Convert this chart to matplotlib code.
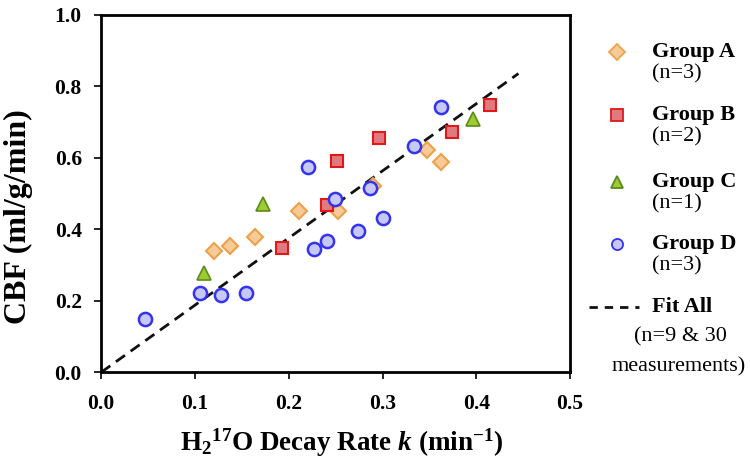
import numpy as np
import matplotlib.pyplot as plt

plt.rcParams['font.family'] = ['Liberation Serif', 'DejaVu Serif']
plt.rcParams['mathtext.fontset'] = 'custom'
plt.rcParams['mathtext.rm'] = 'Liberation Serif'
plt.rcParams['mathtext.it'] = 'Liberation Serif:italic:bold'
plt.rcParams['mathtext.bf'] = 'Liberation Serif:bold'

# decay rate k (1/min) vs CBF (ml/g/min), per group
group_a_k = [0.120, 0.1375, 0.164, 0.211, 0.252, 0.290, 0.347, 0.362]
group_a_cbf = [0.340, 0.354, 0.377, 0.450, 0.450, 0.522, 0.622, 0.588]

group_b_k = [0.193, 0.241, 0.251, 0.296, 0.374, 0.415]
group_b_cbf = [0.347, 0.469, 0.592, 0.656, 0.671, 0.748]

group_c_k = [0.110, 0.172, 0.396]
group_c_cbf = [0.279, 0.470, 0.708]

group_d_k = [0.047, 0.105, 0.128, 0.154, 0.220, 0.227, 0.241, 0.249,
             0.274, 0.287, 0.301, 0.334, 0.362]
group_d_cbf = [0.150, 0.221, 0.216, 0.221, 0.574, 0.345, 0.368, 0.484,
               0.395, 0.515, 0.432, 0.634, 0.743]

fit_slope = 1.878
fit_k_max = 0.445

W, H = 750, 463
fig = plt.figure(figsize=(7.5, 4.63), dpi=100)
ax = fig.add_axes([0.135, 0.196, 0.625, 0.772])

fit_x = np.array([0.0, fit_k_max])
ax.plot(fit_x, fit_slope * fit_x, ls=(0, (4, 2.5)), color='#111111', lw=2, zorder=1)

ms = 9.5
ax.plot(group_a_k, group_a_cbf, 'D', ms=ms * 0.85, mfc='#f6cb98', mec='#eda14a', mew=1.5, ls='none')
ax.plot(group_b_k, group_b_cbf, 's', ms=ms * 0.95, mfc='#e07a80', mec='#e01818', mew=1.5, ls='none')
ax.plot(group_c_k, group_c_cbf, '^', ms=ms, mfc='#9ccc2e', mec='#5c8a1e', mew=1.2, ls='none')
ax.plot(group_d_k, group_d_cbf, 'o', ms=ms, mfc='#c8c8f6', mec='#3434ee', mew=1.8, ls='none')

ax.set_xlim(0, 0.5)
ax.set_ylim(0, 1.0)
ax.set_xticks(np.arange(0, 0.51, 0.1))
ax.set_yticks(np.arange(0, 1.01, 0.2))
ax.xaxis.set_major_formatter(plt.FormatStrFormatter('%.1f'))
ax.yaxis.set_major_formatter(plt.FormatStrFormatter('%.1f'))
ax.tick_params(direction='out', length=5, width=1.2, labelsize=15.5)
ax.tick_params(axis='x', pad=11)
ax.tick_params(axis='y', pad=9)
for lbl in ax.get_xticklabels() + ax.get_yticklabels():
    lbl.set_fontweight('bold')
for sp in ax.spines.values():
    sp.set_linewidth(2)

ax.set_xlabel(r'H$_\mathbf{2}$$^\mathbf{17}$O Decay Rate $k$ (min$^\mathbf{-1}$)',
              fontsize=19.5, fontweight='bold', labelpad=9, x=0.514)
fig.text(18.5 / W, 1 - 217 / H, 'CBF (ml/g/min)', fontsize=23, fontweight='bold',
         rotation=90, ha='center', va='center')

# legend drawn by hand outside the axes
lg = [('D', '#f6cb98', '#eda14a', 'Group A', '(n=3)', 52),
      ('s', '#e07a80', '#e01818', 'Group B', '(n=2)', 115),
      ('^', '#9ccc2e', '#5c8a1e', 'Group C', '(n=1)', 182),
      ('o', '#c8c8f6', '#3434ee', 'Group D', '(n=3)', 244)]
for m, fc, ec, name, n, y in lg:
    fig.lines.append(plt.Line2D([617 / W], [1 - y / H], marker=m, ms=8, mfc=fc, mec=ec,
                                mew=1.3, transform=fig.transFigure))
    fig.text(652 / W, 1 - y / H, name, fontsize=16, fontweight='bold', va='center')
    fig.text(652 / W, 1 - (y + 22) / H, n, fontsize=16, va='center')

fig.lines.append(plt.Line2D([589 / W, 639 / W], [1 - 307 / H] * 2, ls=(0, (3, 2.5)),
                            color='#111111', lw=2, transform=fig.transFigure))
fig.text(652 / W, 1 - 307 / H, 'Fit All', fontsize=16, fontweight='bold', va='center')
fig.text(680 / W, 1 - 337 / H, '(n=9 & 30', fontsize=16, va='center', ha='center')
fig.text(679 / W, 1 - 367 / H, 'measurements)', fontsize=16, va='center', ha='center')

fig.savefig('out.png', dpi=100)
